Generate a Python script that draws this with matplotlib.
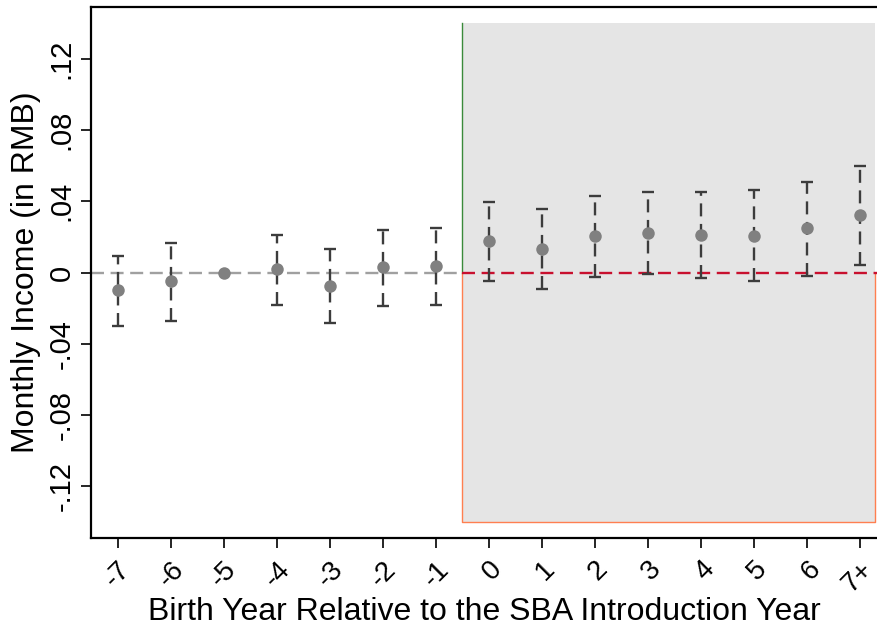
import matplotlib
matplotlib.use("Agg")
import matplotlib.pyplot as plt
import numpy as np

plt.rcParams['font.family'] = ['Liberation Sans', 'DejaVu Sans']

categories = ["-7", "-6", "-5", "-4", "-3", "-2", "-1", "0", "1", "2", "3", "4", "5", "6", "7+"]
rel_year = [-7, -6, -5, -4, -3, -2, -1, 0, 1, 2, 3, 4, 5, 6, 7]
estimate = [-0.0101, -0.0050, 0.0000, 0.0022, -0.0075, 0.0030, 0.0036,
            0.0176, 0.0131, 0.0204, 0.0223, 0.0211, 0.0207, 0.0247, 0.0324]
ci_upper = [0.0095, 0.0164, np.nan, 0.0213, 0.0130, 0.0236, 0.0250,
            0.0393, 0.0355, 0.0432, 0.0454, 0.0449, 0.0462, 0.0507, 0.0600]
ci_lower = [-0.0300, -0.0270, np.nan, -0.0180, -0.0283, -0.0190, -0.0182,
            -0.0050, -0.0092, -0.0026, -0.0011, -0.0030, -0.0045, -0.0022, 0.0041]
yticks = [-0.12, -0.08, -0.04, 0, 0.04, 0.08, 0.12]
ytick_labels = ["-.12", "-.08", "-.04", "0", ".04", ".08", ".12"]

fig = plt.figure(figsize=(8.77, 6.28), dpi=100)
ax = fig.add_axes([91/877, 1-538/628, 1-91/877, (538-7)/628])

xmin, xmax = -7.5, 7.32
ymin, ymax = -0.149, 0.149
shade_x0, shade_x1 = -0.5, 7.28
shade_y = 0.14

# shaded post-period region
ax.fill_between([shade_x0, shade_x1], -shade_y, shade_y, color='#e5e5e5', lw=0, zorder=0)
ax.plot([shade_x0, shade_x0], [0, shade_y], color='#3a8a3a', lw=1.0, zorder=1)
ax.plot([shade_x0, shade_x0, shade_x1, shade_x1], [0, -shade_y, -shade_y, 0],
        color='#ff7f50', lw=1.0, zorder=1)

# zero reference lines
ax.plot([xmin, shade_x0], [0, 0], color='#a0a0a0', lw=1.7, ls=(0, (5.5, 2.8)), zorder=2)
ax.plot([shade_x0, xmax], [0, 0], color='#c8102e', lw=1.7, ls=(0, (5.5, 2.8)), zorder=2)

x = np.array(rel_year, dtype=float)
est = np.array(estimate)
up = np.array(ci_upper)
lo = np.array(ci_lower)
mask = ~np.isnan(up)
eb = ax.errorbar(x[mask], est[mask], yerr=[est[mask]-lo[mask], up[mask]-est[mask]],
                 fmt='none', ecolor='#3c3c3c', elinewidth=1.7, capsize=4, capthick=1.7, zorder=3)
eb[2][0].set_linestyle((0, (5.5, 3.2)))
ax.plot(x, est, 'o', color='#808080', markersize=9, mec='none', zorder=4)

ax.set_xlim(xmin, xmax)
ax.set_ylim(ymin, ymax)
ax.set_xticks(rel_year)
ax.set_xticklabels(categories, rotation=45, ha='right', rotation_mode='anchor', fontsize=20)
ax.set_yticks(yticks)
ax.set_yticklabels(ytick_labels, rotation=90, va='center', fontsize=21)
ax.tick_params(axis='both', direction='out', length=7, width=1.2, color='black')
ax.tick_params(axis='x', pad=6)
ax.tick_params(axis='y', pad=4)

ax.spines['right'].set_visible(False)
for s in ['left', 'bottom', 'top']:
    ax.spines[s].set_linewidth(1.6)

ax.set_ylabel("Monthly Income (in RMB)", fontsize=23, labelpad=5)
ax.set_xlabel("Birth Year Relative to the SBA Introduction Year", fontsize=23, labelpad=0)

fig.savefig("out.png", dpi=100)
